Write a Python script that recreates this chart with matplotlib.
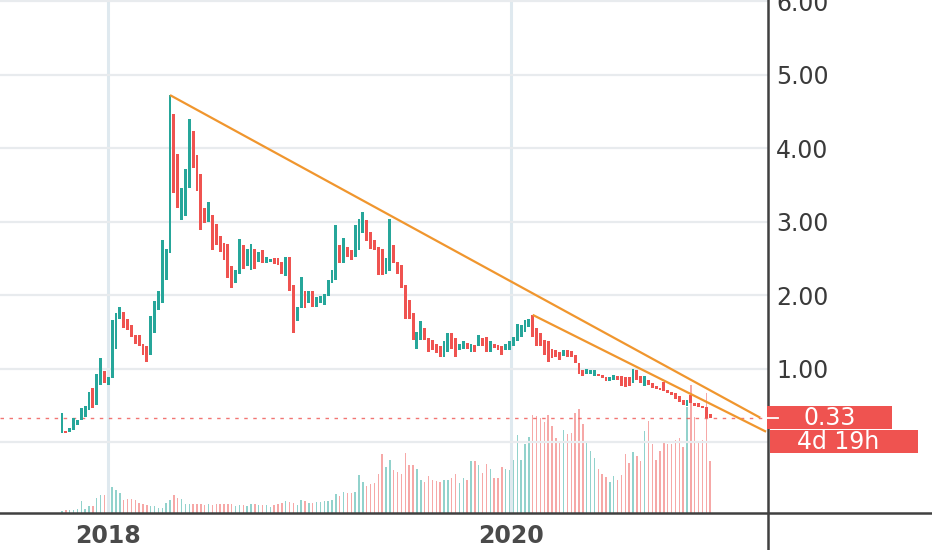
import datetime

import matplotlib
matplotlib.use("Agg")
import matplotlib.pyplot as plt
import matplotlib.dates as mdates
from matplotlib.lines import Line2D
from matplotlib.patches import Rectangle
from matplotlib.transforms import blended_transform_factory

# weekly candles, first one is the week of 2017-10-09
first_week = datetime.date(2017, 10, 9)

opens = [
    0.12, 0.15, 0.14, 0.17, 0.23, 0.30, 0.34, 0.44, 0.73, 0.50,
    0.78, 0.96, 0.78, 0.87, 1.26, 1.67, 1.77, 1.67, 1.59, 1.46,
    1.46, 1.34, 1.30, 1.18, 1.48, 1.80, 1.89, 2.20, 2.57, 4.46,
    3.92, 3.02, 3.08, 3.45, 4.23, 3.90, 3.64, 3.19, 3.00, 3.09,
    2.96, 2.80, 2.71, 2.70, 2.39, 2.17, 2.29, 2.68, 2.39, 2.34,
    2.62, 2.45, 2.61, 2.43, 2.45, 2.50, 2.50, 2.45, 2.26, 2.52,
    2.14, 1.64, 1.82, 2.05, 1.89, 2.06, 1.84, 1.89, 1.86, 1.98,
    2.16, 2.20, 2.68, 2.43, 2.66, 2.61, 2.52, 2.61, 2.84, 3.02,
    2.86, 2.75, 2.66, 2.63, 2.29, 2.32, 2.68, 2.45, 2.41, 2.14,
    1.93, 1.75, 1.27, 1.39, 1.55, 1.41, 1.39, 1.34, 1.30, 1.16,
    1.23, 1.48, 1.41, 1.25, 1.27, 1.35, 1.23, 1.32, 1.30, 1.41,
    1.43, 1.23, 1.34, 1.32, 1.30, 1.25, 1.25, 1.30, 1.37, 1.43,
    1.50, 1.57, 1.73, 1.55, 1.48, 1.39, 1.37, 1.27, 1.25, 1.23,
    1.17, 1.25, 1.24, 1.18, 1.07, 0.98, 0.93, 0.93, 0.90, 0.93,
    0.91, 0.89, 0.83, 0.85, 0.90, 0.90, 0.89, 0.88, 0.80, 0.98,
    0.90, 0.76, 0.85, 0.80, 0.76, 0.74, 0.82, 0.71, 0.68, 0.66,
    0.62, 0.57, 0.49, 0.64, 0.53, 0.53, 0.49, 0.48, 0.38,
]
closes = [
    0.40, 0.12, 0.19, 0.33, 0.30, 0.46, 0.49, 0.68, 0.46, 0.93,
    1.14, 0.80, 0.89, 1.66, 1.75, 1.84, 1.55, 1.52, 1.43, 1.34,
    1.30, 1.18, 1.09, 1.71, 1.92, 2.06, 2.75, 2.62, 4.72, 3.39,
    3.19, 3.45, 3.72, 4.40, 3.73, 3.42, 2.89, 2.98, 3.26, 2.61,
    2.68, 2.59, 2.48, 2.23, 2.10, 2.34, 2.76, 2.35, 2.63, 2.69,
    2.35, 2.59, 2.43, 2.52, 2.49, 2.42, 2.41, 2.29, 2.52, 2.05,
    1.48, 1.84, 2.25, 1.82, 2.06, 1.84, 1.97, 1.98, 2.01, 2.20,
    2.34, 2.95, 2.43, 2.77, 2.52, 2.48, 2.95, 3.04, 3.13, 2.73,
    2.63, 2.61, 2.27, 2.27, 2.50, 3.04, 2.43, 2.29, 2.09, 1.68,
    1.68, 1.39, 1.50, 1.64, 1.39, 1.23, 1.25, 1.21, 1.16, 1.37,
    1.48, 1.27, 1.16, 1.34, 1.37, 1.26, 1.34, 1.23, 1.46, 1.30,
    1.23, 1.37, 1.28, 1.25, 1.18, 1.34, 1.37, 1.43, 1.61, 1.59,
    1.66, 1.68, 1.43, 1.30, 1.30, 1.18, 1.09, 1.14, 1.15, 1.12,
    1.25, 1.16, 1.16, 1.07, 0.93, 0.90, 0.99, 0.98, 0.98, 0.90,
    0.87, 0.83, 0.88, 0.91, 0.84, 0.76, 0.75, 0.76, 0.99, 0.84,
    0.80, 0.90, 0.78, 0.74, 0.72, 0.71, 0.70, 0.67, 0.64, 0.58,
    0.55, 0.50, 0.57, 0.53, 0.49, 0.48, 0.46, 0.32, 0.33,
]
# relative weekly volume
volumes = [
    2, 3, 3, 3, 4, 12, 4, 7, 7, 15,
    18, 18, 23, 26, 23, 20, 13, 14, 14, 13,
    10, 9, 8, 7, 7, 5, 5, 10, 13, 18,
    15, 14, 9, 9, 9, 9, 9, 8, 9, 8,
    9, 9, 9, 9, 9, 7, 8, 8, 7, 9,
    9, 8, 8, 8, 6, 8, 9, 10, 12, 11,
    10, 8, 13, 12, 10, 10, 11, 11, 12, 12,
    13, 19, 17, 21, 20, 20, 21, 38, 31, 27,
    29, 30, 39, 59, 46, 53, 43, 41, 39, 60,
    48, 48, 44, 33, 31, 37, 33, 32, 31, 33,
    33, 35, 39, 30, 35, 33, 52, 52, 48, 40,
    49, 44, 35, 35, 46, 44, 43, 53, 78, 53,
    69, 76, 98, 97, 95, 91, 98, 87, 75, 72,
    83, 79, 80, 100, 104, 89, 70, 62, 55, 44,
    39, 36, 31, 37, 33, 38, 59, 50, 61, 57,
    52, 82, 92, 69, 53, 62, 71, 69, 69, 73,
    75, 66, 106, 128, 96, 70, 73, 120, 52,
]

# trend lines drawn on the chart: (week, price) -> (week, price)
trend_lines = [
    ((28, 4.72), (181.0, 0.33)),
    ((122, 1.73), (182.5, 0.14)),
]

price_ticks = [0, 1, 2, 3, 4, 5, 6]
year_ticks = [datetime.date(2018, 1, 1), datetime.date(2020, 1, 1)]
year_labels = ["2018", "2020"]
bar_countdown = "4d 19h"

GREEN = "#26a69a"
RED = "#ef5350"
ORANGE = "#f0962e"


def week_num(i):
    return mdates.date2num(first_week) + 7.0 * i


x = [week_num(i) for i in range(len(closes))]
up = [c >= o for o, c in zip(opens, closes)]
colors = [GREEN if u else RED for u in up]

fig = plt.figure(figsize=(9.32, 5.5), dpi=100, facecolor="white")
ax = fig.add_axes([0, 37 / 550, 768 / 932, 513 / 550])
vol_ax = ax.twinx()
ax.set_zorder(2)
vol_ax.set_zorder(1)
ax.patch.set_visible(False)

# volume pane (same height as the price pane, in pixels)
vol_ax.bar(x, volumes, width=2.6, color=colors, alpha=0.5, linewidth=0)
vol_ax.set_ylim(0, 513)
vol_ax.set_yticks([])
for s in vol_ax.spines.values():
    s.set_visible(False)

# candles
bottoms = [min(o, c) for o, c in zip(opens, closes)]
heights = [abs(c - o) for o, c in zip(opens, closes)]
ax.bar(x, heights, bottom=bottoms, width=5.2, color=colors, linewidth=0, zorder=3)

# trend lines
for (w0, p0), (w1, p1) in trend_lines:
    ax.plot([week_num(w0), week_num(w1)], [p0, p1], color=ORANGE, lw=1.6,
            solid_capstyle="butt", zorder=4)

# last price dotted line
last = closes[-1]
ax.axhline(last, color=RED, lw=1.0, ls=(0, (2.5, 4)), alpha=0.8, zorder=2)

ax.set_xlim(week_num(-16.07), week_num(183.0))
ax.set_ylim(-0.966, 6.014)

for s in ax.spines.values():
    s.set_visible(False)

ax.yaxis.tick_right()
ax.set_yticks(price_ticks)
ax.set_yticklabels(["" if p == 0 else f"{p:.2f}" for p in price_ticks])
ax.tick_params(axis="y", length=0, pad=6, labelsize=17, labelcolor="#3a3a3a")

ax.set_xticks(mdates.date2num(year_ticks))
ax.set_xticklabels(year_labels, fontweight="bold")
ax.tick_params(axis="x", length=0, pad=8, labelsize=17, labelcolor="#4a4a4a")

ax.grid(True, axis="y", color="#e8ebee", lw=1.6, zorder=0)
ax.grid(True, axis="x", color="#dfe9ef", lw=2.2, zorder=0)
ax.set_axisbelow(True)

# axis lines of the chart frame
fig.add_artist(Line2D([0, 1], [37 / 550, 37 / 550], transform=fig.transFigure,
                      color="#404040", lw=1.8, zorder=3))
fig.add_artist(Line2D([768 / 932, 768 / 932], [0, 1], transform=fig.transFigure,
                      color="#404040", lw=1.8, zorder=3))

# price label and bar countdown boxes on the price scale
blend = blended_transform_factory(fig.transFigure, ax.transData)
px = 6.98 / 513  # price units per pixel
fig.add_artist(Rectangle((766.5 / 932, last - 11.5 * px), 125.5 / 932, 23 * px,
                         transform=blend, facecolor=RED, edgecolor="none", zorder=5))
fig.add_artist(Line2D([767 / 932, 778 / 932], [last, last], transform=blend,
                      color="white", lw=1.3, zorder=6))
fig.text(830 / 932, last, f"{last:.2f}", transform=blend, color="white",
         fontsize=17, ha="center", va="center", zorder=6)
box2_top = last - 12.5 * px
fig.add_artist(Rectangle((769.5 / 932, box2_top - 23 * px), 148.5 / 932, 23 * px,
                         transform=blend, facecolor=RED, edgecolor="none", zorder=5))
fig.text(838 / 932, box2_top - 11.5 * px, bar_countdown, transform=blend,
         color="white", fontsize=17, ha="center", va="center", zorder=6)

fig.savefig("out.png", dpi=100, facecolor="white")
